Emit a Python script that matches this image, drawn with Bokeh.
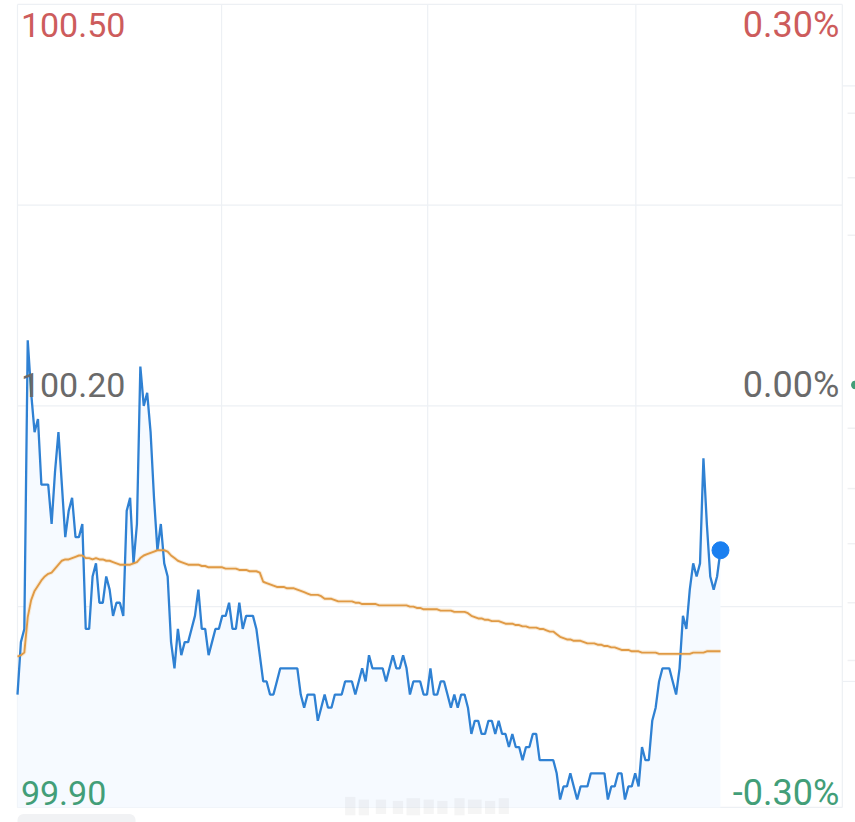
from bokeh.plotting import figure
from bokeh.models import Range1d, Label
from bokeh.embed import file_html
from bokeh.resources import INLINE

price = [
    99.98, 100.02, 100.03, 100.25, 100.21, 100.18, 100.19, 100.14, 100.14, 100.14,
    100.11, 100.15, 100.18, 100.14, 100.10, 100.12, 100.13, 100.10, 100.10, 100.11,
    100.03, 100.03, 100.07, 100.08, 100.05, 100.05, 100.07, 100.06, 100.04, 100.05,
    100.05, 100.04, 100.12, 100.13, 100.08, 100.11, 100.23, 100.20, 100.21, 100.18,
    100.13, 100.09, 100.11, 100.08, 100.07, 100.02, 100.00, 100.03, 100.01, 100.02,
    100.02, 100.03, 100.04, 100.06, 100.03, 100.03, 100.01, 100.02, 100.03, 100.03,
    100.04, 100.04, 100.05, 100.03, 100.03, 100.05, 100.03, 100.04, 100.04, 100.04,
    100.03, 100.01, 99.99, 99.99, 99.98, 99.98, 99.99, 100.00, 100.00, 100.00,
    100.00, 100.00, 100.00, 99.98, 99.97, 99.98, 99.98, 99.98, 99.96, 99.97,
    99.98, 99.97, 99.97, 99.98, 99.98, 99.98, 99.99, 99.99, 99.99, 99.98,
    99.99, 100.00, 99.99, 100.01, 100.00, 100.00, 100.00, 100.00, 99.99, 100.00,
    100.01, 100.00, 100.00, 100.01, 100.00, 99.98, 99.99, 99.99, 99.99, 99.98,
    99.98, 100.00, 99.98, 99.98, 99.99, 99.99, 99.98, 99.97, 99.98, 99.97,
    99.98, 99.98, 99.97, 99.95, 99.96, 99.96, 99.95, 99.95, 99.96, 99.96,
    99.95, 99.96, 99.95, 99.95, 99.94, 99.95, 99.94, 99.94, 99.93, 99.94,
    99.94, 99.95, 99.95, 99.93, 99.93, 99.93, 99.93, 99.93, 99.92, 99.90,
    99.91, 99.91, 99.92, 99.91, 99.90, 99.91, 99.91, 99.91, 99.92, 99.92,
    99.92, 99.92, 99.92, 99.90, 99.91, 99.91, 99.92, 99.92, 99.90, 99.91,
    99.91, 99.92, 99.91, 99.94, 99.93, 99.93, 99.96, 99.97, 99.99, 100.00,
    100.00, 100.00, 99.99, 99.98, 100.00, 100.04, 100.03, 100.06, 100.08, 100.07,
    100.08, 100.16, 100.11, 100.07, 100.06, 100.07, 100.09,
]

average = [
    100.009, 100.010, 100.012, 100.039, 100.052, 100.059, 100.063, 100.067, 100.070, 100.072,
    100.073, 100.076, 100.079, 100.082, 100.083, 100.083, 100.084, 100.085, 100.086, 100.086,
    100.084, 100.084, 100.083, 100.084, 100.083, 100.083, 100.082, 100.082, 100.081, 100.080,
    100.079, 100.079, 100.079, 100.079, 100.080, 100.081, 100.084, 100.086, 100.087, 100.088,
    100.089, 100.090, 100.090, 100.090, 100.089, 100.086, 100.084, 100.082, 100.081, 100.080,
    100.079, 100.079, 100.079, 100.079, 100.078, 100.078, 100.077, 100.077, 100.077, 100.077,
    100.077, 100.076, 100.076, 100.076, 100.076, 100.075, 100.075, 100.075, 100.074, 100.074,
    100.074, 100.073, 100.066, 100.065, 100.064, 100.063, 100.062, 100.062, 100.062, 100.061,
    100.061, 100.061, 100.060, 100.059, 100.058, 100.057, 100.056, 100.056, 100.056, 100.055,
    100.053, 100.053, 100.053, 100.052, 100.051, 100.051, 100.051, 100.051, 100.051, 100.050,
    100.050, 100.049, 100.049, 100.049, 100.049, 100.049, 100.048, 100.048, 100.048, 100.048,
    100.048, 100.048, 100.048, 100.048, 100.048, 100.047, 100.047, 100.046, 100.046, 100.045,
    100.045, 100.045, 100.045, 100.045, 100.044, 100.044, 100.044, 100.044, 100.043, 100.043,
    100.043, 100.043, 100.042, 100.040, 100.039, 100.038, 100.038, 100.037, 100.037, 100.036,
    100.036, 100.036, 100.035, 100.034, 100.034, 100.034, 100.033, 100.033, 100.032, 100.032,
    100.031, 100.031, 100.031, 100.030, 100.030, 100.029, 100.028, 100.028, 100.026, 100.024,
    100.023, 100.022, 100.022, 100.021, 100.021, 100.021, 100.020, 100.019, 100.019, 100.019,
    100.018, 100.018, 100.017, 100.017, 100.016, 100.016, 100.015, 100.014, 100.014, 100.014,
    100.013, 100.013, 100.013, 100.012, 100.012, 100.012, 100.012, 100.012, 100.011, 100.011,
    100.011, 100.011, 100.011, 100.011, 100.011, 100.011, 100.011, 100.011, 100.012, 100.012,
    100.012, 100.012, 100.013, 100.013, 100.013, 100.013, 100.013,
]

h_grid = [100.506, 100.353, 100.20, 100.047, 99.894]
v_grid = [0, 59.8, 120.2, 181.2, 241.7]
left_labels = ["100.50", "100.20", "99.90"]
right_labels = ["0.30%", "0.00%", "-0.30%"]
label_levels = [100.49, 100.216, 99.905]
label_colors = ["#cd5c5c", "#6a6a6a", "#429e78"]
strip_levels = [100.423, 100.374, 100.330, 100.183, 100.137, 100.095, 100.050, 100.006]
smudge_left = [96, 100, 105, 110, 114, 119, 123, 128, 132, 137, 141]
smudge_right = [99, 103, 108, 113, 118, 122, 126, 131, 136, 140, 144]
smudge_top = [99.902, 99.900, 99.900, 99.899, 99.901, 99.900, 99.899, 99.901, 99.900, 99.899, 99.901]
smudge_bottom = [99.888, 99.888, 99.889, 99.889, 99.888, 99.889, 99.889, 99.888, 99.889, 99.889, 99.889]

x_min, x_max = -4.98, 245.56
y_min, y_max = 99.8825, 100.509
y_floor = 99.894
xs = list(range(len(price)))

p = figure(width=855, height=822, output_backend="svg", toolbar_location=None,
           x_range=Range1d(x_min, x_max), y_range=Range1d(y_min, y_max),
           min_border_left=0, min_border_right=0, min_border_top=0, min_border_bottom=0,
           x_axis_type=None, y_axis_type=None, outline_line_color=None)
p.grid.visible = False

grid_color = "#edf0f4"
p.segment(x0=[0] * len(h_grid), x1=[v_grid[-1]] * len(h_grid), y0=h_grid, y1=h_grid,
          line_color=grid_color, line_width=1.2)
p.segment(x0=v_grid, x1=v_grid, y0=[y_floor] * len(v_grid), y1=[h_grid[0]] * len(v_grid),
          line_color=grid_color, line_width=1.2)
p.segment(x0=[v_grid[-1]] * 2, x1=[x_max] * 2, y0=[100.444, 99.99], y1=[100.444, 99.99],
          line_color=grid_color, line_width=1.2)
p.scatter([x_max - 1] * len(strip_levels), strip_levels, marker="dash", size=9,
          line_color="#f0f1f3", line_width=1.5)

p.quad(left=[0], right=[34.6], top=[99.889], bottom=[y_min - 0.01],
       fill_color="#f1f2f4", line_color=None, border_radius=6)

p.varea(x=xs, y1=[y_floor] * len(xs), y2=price, fill_color="#f6faff")
p.line(xs, average, line_color="#f7dfc0", line_width=4, line_alpha=0.6)
p.line(xs, price, line_color="#2f81d3", line_width=2.3)
p.line(xs, average, line_color="#e09a45", line_width=1.9)
p.scatter([xs[-1]], [price[-1]], size=17, color="#1a7ff0")
p.scatter([x_max], [100.216], size=8, color="#429e78")

p.quad(left=smudge_left, right=smudge_right, top=smudge_top, bottom=smudge_bottom,
       fill_color="#9a9a9a", fill_alpha=0.10, line_color=None)

for text, level, color in zip(left_labels, label_levels, label_colors):
    p.add_layout(Label(x=1.0, y=level, text=text, text_font="Roboto", text_font_size="34px",
                       text_color=color, text_align="left", text_baseline="middle"))
for text, level, color in zip(right_labels, label_levels, label_colors):
    p.add_layout(Label(x=240.8, y=level, text=text, text_font="Roboto", text_font_size="36px",
                       text_color=color, text_align="right", text_baseline="middle"))

open("out.html", "w").write(file_html(p, INLINE))
